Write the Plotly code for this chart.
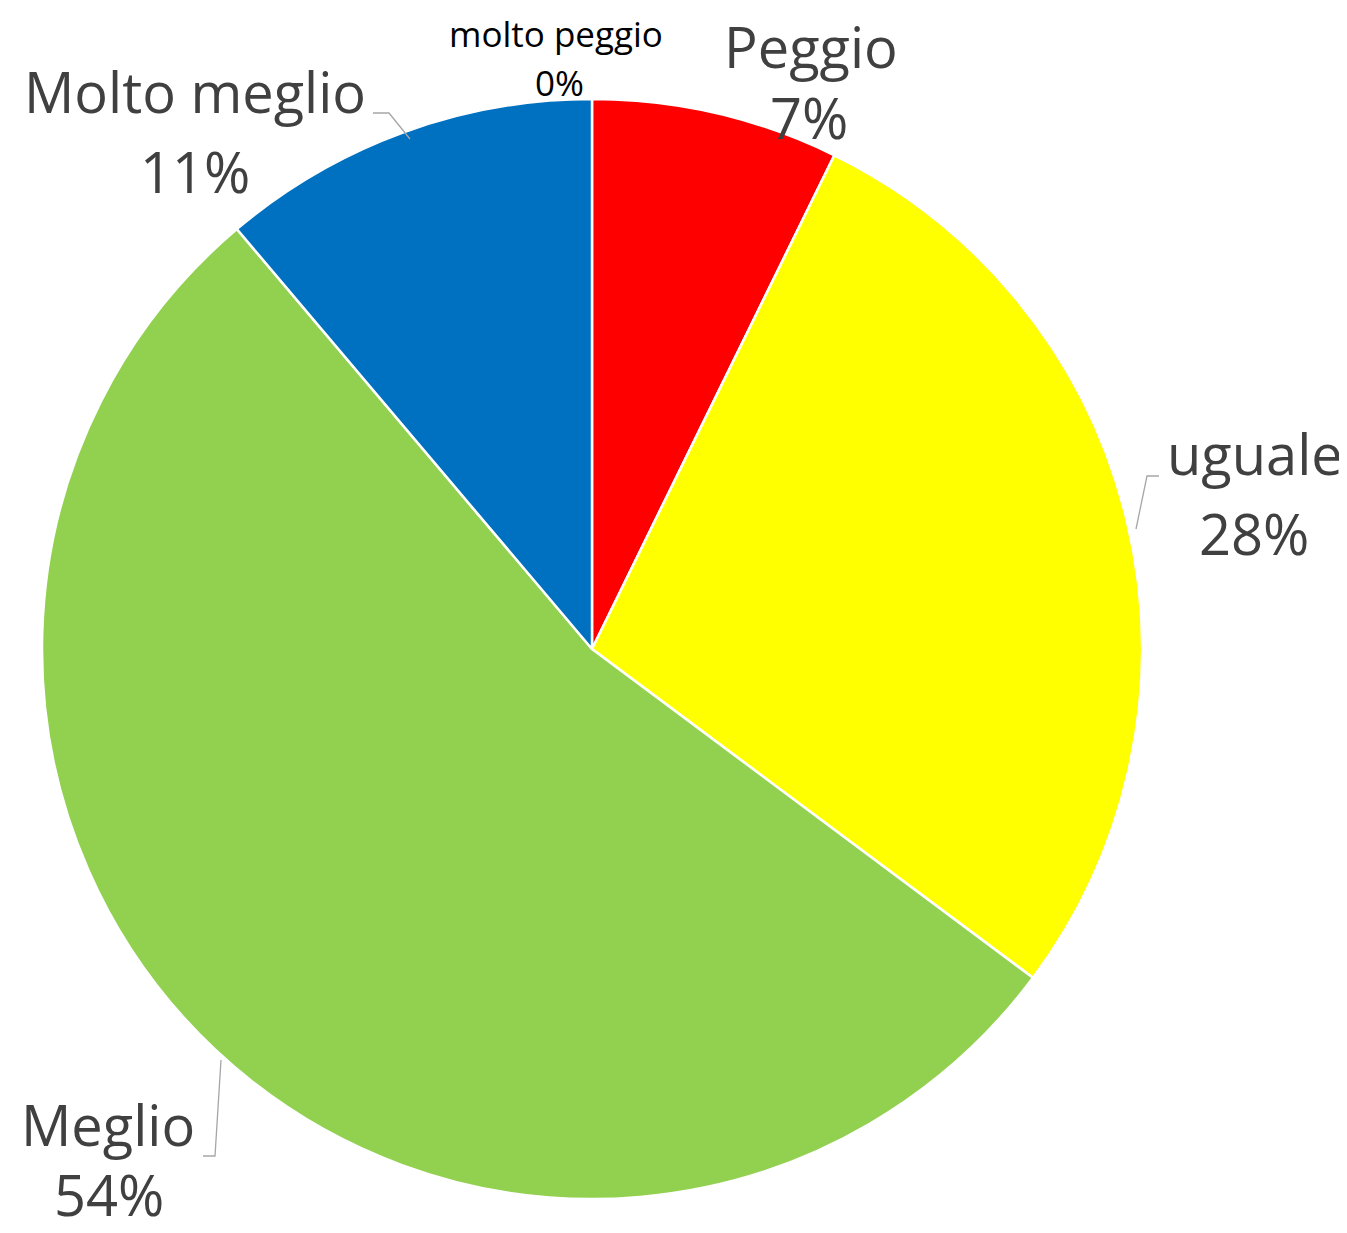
import plotly.graph_objects as go

categories = ["molto peggio", "Peggio", "uguale", "Meglio", "Molto meglio"]
values = [0, 13, 50, 96, 20]
colors = ["#C00000", "#FF0000", "#FFFF00", "#92D050", "#0070C0"]

total = sum(values)
pcts = [f"{round(v / total * 100)}%" for v in values]

W, H = 1347, 1233
# target pie center / radius in pixels (with plotly's small internal offset compensated)
cx, cy, r = 584, 641, 550

fig = go.Figure(go.Pie(
    labels=categories,
    values=values,
    sort=False,
    direction="clockwise",
    rotation=0,
    marker=dict(colors=colors, line=dict(color="white", width=2.5)),
    textinfo="none",
    hoverinfo="label+percent",
    showlegend=False,
    domain=dict(x=[(cx - r) / W, (cx + r) / W], y=[1 - (cy + r) / H, 1 - (cy - r) / H]),
))

FONT = "Open Sans, Lato, sans-serif"
GREY = "#404040"

# label positions (pixel box centers): (x_label, y_label, x_pct, y_pct, size, color)
label_pos = {
    "molto peggio": (548, 25, 551, 74, 35, "#000000"),
    "Peggio": (803, 38, 801, 109, 56, GREY),
    "uguale": (1247, 445, 1246, 525, 56, GREY),
    "Meglio": (100, 1116, 101, 1186, 56, GREY),
    "Molto meglio": (187, 83, 187, 163, 56, GREY),
}

annotations = []
for cat, pct in zip(categories, pcts):
    xl, yl, xp, yp, size, col = label_pos[cat]
    for txt, xx, yy in ((cat, xl, yl), (pct, xp, yp)):
        annotations.append(dict(
            text=txt, x=xx / W, y=1 - yy / H, xref="paper", yref="paper",
            xanchor="center", yanchor="middle", showarrow=False,
            font=dict(family=FONT, size=size, color=col),
        ))

# leader lines (pixel paths)
leaders = [
    [(365, 105), (381, 105), (402, 131)],
    [(1151, 468), (1139, 468), (1128, 521)],
    [(213, 1052), (207, 1148), (195, 1148)],
]
shapes = []
for pts in leaders:
    path = "M " + " L ".join(f"{px / W},{1 - py / H}" for px, py in pts)
    shapes.append(dict(type="path", path=path, xref="paper", yref="paper",
                       line=dict(color="#A6A6A6", width=1.3)))

fig.update_layout(
    width=W, height=H,
    margin=dict(l=0, r=0, t=0, b=0),
    paper_bgcolor="white", plot_bgcolor="white",
    annotations=annotations,
    shapes=shapes,
)

fig.write_html("out.html")
